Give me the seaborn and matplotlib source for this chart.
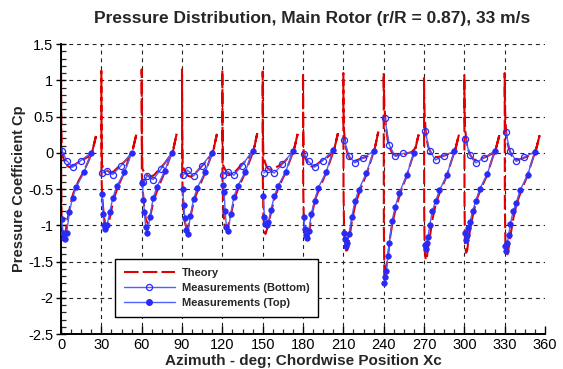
import numpy as np
import pandas as pd
import matplotlib
matplotlib.use("Agg")
import matplotlib.pyplot as plt
from matplotlib.lines import Line2D
from matplotlib.ticker import MultipleLocator
import seaborn as sns

# ---------------------------------------------------------------- data
azimuths = [0, 30, 60, 90, 120, 150, 180, 210, 240, 270, 300, 330]

# chordwise stations of the panel-method solution
theory_xc = [0.0, 0.005, 0.02, 0.05, 0.08, 0.12, 0.18, 0.25, 0.35, 0.5, 0.65, 0.8, 0.9, 1.0]

theory_top = [
    [1.12, -0.40, -0.95, -1.18, -1.22, -1.12, -0.94, -0.76, -0.56, -0.39, -0.26, -0.10, 0.03, 0.23],
    [1.13, -0.30, -0.55, -0.75, -0.90, -1.00, -1.03, -0.88, -0.64, -0.44, -0.28, -0.06, 0.05, 0.25],
    [1.15, -0.30, -0.45, -0.62, -0.78, -0.92, -0.98, -0.86, -0.65, -0.45, -0.28, -0.08, 0.04, 0.26],
    [1.15, -0.30, -0.55, -0.80, -0.95, -1.03, -1.02, -0.86, -0.65, -0.46, -0.29, -0.09, 0.04, 0.26],
    [1.14, -0.35, -0.70, -0.95, -1.05, -1.06, -0.98, -0.84, -0.63, -0.44, -0.28, -0.09, 0.04, 0.27],
    [1.12, -0.40, -0.85, -1.08, -1.12, -1.06, -0.95, -0.80, -0.61, -0.43, -0.28, -0.08, 0.05, 0.26],
    [1.10, -0.45, -0.85, -1.10, -1.18, -1.21, -1.08, -0.86, -0.64, -0.46, -0.29, -0.08, 0.06, 0.27],
    [1.10, -0.50, -1.00, -1.28, -1.35, -1.34, -1.15, -0.93, -0.70, -0.49, -0.31, -0.09, 0.06, 0.29],
    [1.10, -1.00, -1.75, -1.65, -1.55, -1.45, -1.18, -0.97, -0.76, -0.52, -0.33, -0.10, 0.04, 0.25],
    [1.03, -0.80, -1.35, -1.48, -1.45, -1.30, -1.12, -0.90, -0.68, -0.49, -0.32, -0.09, 0.05, 0.25],
    [1.07, -0.70, -1.25, -1.38, -1.35, -1.20, -1.02, -0.85, -0.65, -0.47, -0.31, -0.08, 0.05, 0.24],
    [1.10, -0.70, -1.22, -1.37, -1.40, -1.30, -1.10, -0.90, -0.69, -0.49, -0.32, -0.09, 0.05, 0.24],
]

theory_bottom = [
    [1.12, 0.40, 0.03, -0.04, -0.09, -0.14, -0.18, -0.20, -0.18, -0.13, -0.09, -0.05, 0.02, 0.23],
    [1.13, 0.30, -0.17, -0.20, -0.21, -0.22, -0.25, -0.27, -0.26, -0.19, -0.13, -0.05, 0.04, 0.25],
    [1.15, 0.30, -0.22, -0.25, -0.28, -0.30, -0.32, -0.33, -0.31, -0.23, -0.15, -0.05, 0.03, 0.26],
    [1.15, 0.30, -0.18, -0.22, -0.25, -0.29, -0.32, -0.33, -0.30, -0.22, -0.14, -0.05, 0.04, 0.26],
    [1.14, 0.30, -0.17, -0.20, -0.23, -0.27, -0.29, -0.30, -0.27, -0.19, -0.12, -0.04, 0.05, 0.27],
    [1.12, 0.30, -0.05, -0.10, -0.15, -0.20, -0.23, -0.23, -0.21, -0.17, -0.11, -0.03, 0.05, 0.26],
    [1.10, 0.40, 0.01, -0.05, -0.09, -0.13, -0.17, -0.19, -0.18, -0.12, -0.08, -0.02, 0.06, 0.27],
    [1.10, 0.60, 0.30, 0.15, 0.06, -0.01, -0.07, -0.11, -0.11, -0.08, -0.06, -0.02, 0.06, 0.29],
    [1.10, 0.90, 0.65, 0.45, 0.30, 0.16, 0.06, -0.01, -0.04, -0.03, -0.01, 0.01, 0.06, 0.25],
    [1.03, 0.75, 0.48, 0.30, 0.18, 0.08, 0.02, -0.04, -0.06, -0.05, -0.03, 0.01, 0.06, 0.25],
    [1.07, 0.65, 0.35, 0.20, 0.10, 0.03, -0.04, -0.09, -0.10, -0.08, -0.05, -0.01, 0.05, 0.24],
    [1.10, 0.75, 0.45, 0.25, 0.14, 0.06, -0.02, -0.08, -0.10, -0.08, -0.05, -0.01, 0.05, 0.24],
]

# pressure taps on the upper surface
top_xc = [0.02, 0.05, 0.08, 0.115, 0.165, 0.24, 0.33, 0.44, 0.66, 0.865]
meas_top = [
    [-0.91, -1.10, -1.18, -1.19, -1.10, -0.82, -0.62, -0.47, -0.27, 0.00],
    [-0.57, -0.85, -1.00, -1.05, -1.00, -0.82, -0.62, -0.46, -0.27, -0.01],
    [-0.42, -0.65, -0.82, -1.03, -1.10, -0.88, -0.62, -0.47, -0.25, 0.00],
    [-0.50, -0.72, -0.90, -1.06, -1.12, -0.87, -0.64, -0.48, -0.27, 0.00],
    [-0.45, -0.54, -0.80, -1.02, -1.08, -0.85, -0.61, -0.46, -0.26, 0.03],
    [-0.59, -0.89, -0.98, -1.00, -0.96, -0.79, -0.60, -0.46, -0.26, 0.02],
    [-0.89, -1.05, -1.14, -1.18, -1.08, -0.84, -0.66, -0.48, -0.27, 0.04],
    [-1.10, -1.19, -1.28, -1.25, -1.12, -0.89, -0.67, -0.51, -0.28, 0.02],
    [-1.80, -1.72, -1.63, -1.43, -1.24, -0.94, -0.75, -0.56, -0.31, 0.00],
    [-1.27, -1.33, -1.24, -1.16, -1.00, -0.80, -0.67, -0.52, -0.30, 0.02],
    [-1.11, -1.20, -1.13, -1.04, -0.95, -0.80, -0.66, -0.50, -0.29, 0.02],
    [-1.29, -1.36, -1.25, -1.13, -0.98, -0.81, -0.69, -0.52, -0.30, 0.01],
]

# pressure taps on the lower surface (last station is the shared trailing-edge tap)
bottom_xc = [0.03, 0.16, 0.33, 0.56, 0.865]
meas_bottom = [
    [0.03, -0.11, -0.20, -0.11, 0.00],
    [-0.28, -0.25, -0.30, -0.18, -0.01],
    [-0.41, -0.32, -0.37, -0.22, 0.00],
    [-0.31, -0.24, -0.32, -0.18, 0.00],
    [-0.30, -0.26, -0.31, -0.18, 0.03],
    [-0.28, -0.23, -0.28, -0.16, 0.02],
    [-0.02, -0.12, -0.20, -0.11, 0.04],
    [0.17, -0.04, -0.14, -0.07, 0.02],
    [0.48, 0.11, -0.05, -0.01, 0.00],
    [0.30, 0.03, -0.10, -0.04, 0.02],
    [0.19, -0.03, -0.14, -0.07, 0.02],
    [0.28, 0.02, -0.12, -0.06, 0.01],
]

xticks = [0, 30, 60, 90, 120, 150, 180, 210, 240, 270, 300, 330, 360]
yticks = [1.5, 1, 0.5, 0, -0.5, -1, -1.5, -2, -2.5]

# each section's chord is laid out over this many degrees after its azimuth
CHORD_DEG = 26.0

# ---------------------------------------------------------------- frames
rows_th = []
for k, az in enumerate(azimuths):
    # trailing edge -> leading edge along the upper side, then back along the lower side
    xs = [az + CHORD_DEG * c for c in theory_xc]
    path_x = xs[::-1] + xs[1:]
    path_y = theory_top[k][::-1] + theory_bottom[k][1:]
    for i, (x, y) in enumerate(zip(path_x, path_y)):
        rows_th.append({"seg": k, "order": i, "x": x, "cp": y})
df_th = pd.DataFrame(rows_th)

rows_top, rows_bot = [], []
for k, az in enumerate(azimuths):
    for c, y in zip(top_xc, meas_top[k]):
        rows_top.append({"seg": k, "x": az + CHORD_DEG * c, "cp": y})
    for c, y in zip(bottom_xc, meas_bottom[k]):
        rows_bot.append({"seg": k, "x": az + CHORD_DEG * c, "cp": y})
df_top = pd.DataFrame(rows_top)
df_bot = pd.DataFrame(rows_bot)

# ---------------------------------------------------------------- plot
sns.set_theme(style="white")
plt.rcParams["font.family"] = ["Liberation Sans", "DejaVu Sans"]

RED = "#E00000"
BLUE_LINE = "#5060FF"
BLUE_MK = "#2A2AF8"
THEORY_DASH = (0, (7, 2))

fig = plt.figure(figsize=(5.63, 3.69), dpi=100)
ax = fig.add_axes([61 / 563, 35 / 369, 484 / 563, 290 / 369])

sns.lineplot(data=df_th, x="x", y="cp", units="seg", estimator=None, sort=False,
             color=RED, linewidth=1.5, linestyle=THEORY_DASH, ax=ax, zorder=2)
sns.lineplot(data=df_bot, x="x", y="cp", units="seg", estimator=None, sort=False,
             color=BLUE_LINE, linewidth=1.0, marker="o", markersize=4.4,
             markerfacecolor="none", markeredgecolor=BLUE_MK, markeredgewidth=0.9,
             markevery=[0, 1, 2, 3], ax=ax, zorder=3)
sns.lineplot(data=df_top, x="x", y="cp", units="seg", estimator=None, sort=False,
             color=BLUE_LINE, linewidth=1.0, marker="o", markersize=4.0,
             markerfacecolor=BLUE_MK, markeredgecolor=BLUE_MK, markeredgewidth=0.5,
             ax=ax, zorder=4)

ax.set_xlim(0, 360)
ax.set_ylim(-2.5, 1.5)
ax.set_xticks(xticks)
ax.set_yticks(yticks)
ax.set_xticklabels([str(t) for t in xticks])
ax.set_yticklabels([("%g" % t) for t in yticks])
ax.xaxis.set_minor_locator(MultipleLocator(7.5))
ax.yaxis.set_minor_locator(MultipleLocator(0.1))

ax.grid(True, which="major", color="#222222", linestyle=(0, (3.5, 3.5)), linewidth=0.8)
ax.set_axisbelow(True)
fig.canvas.draw()
ax.xaxis.get_gridlines()[-1].set_visible(False)
ax.yaxis.get_gridlines()[-1].set_visible(False)

for side in ("top", "right"):
    ax.spines[side].set_visible(False)
for side in ("left", "bottom"):
    ax.spines[side].set_color("black")
    ax.spines[side].set_linewidth(1.4)

ax.tick_params(axis="x", which="major", direction="in", length=6, width=1.0,
               labelsize=10.5, pad=3, colors="black", bottom=True)
ax.tick_params(axis="x", which="minor", direction="in", length=3.5, width=0.9, bottom=True)
ax.tick_params(axis="y", which="major", direction="inout", length=7, width=1.0,
               labelsize=10.5, pad=2, colors="black", left=True)
ax.tick_params(axis="y", which="minor", direction="in", length=3.5, width=0.9, left=True)

ax.set_xlabel("Azimuth - deg; Chordwise Position Xc", fontsize=11, fontweight="bold",
              labelpad=1)
ax.set_ylabel("Pressure Coefficient Cp", fontsize=10.5, fontweight="bold")
# right edge of the rotated label sits just left of the tick labels
ax.yaxis.set_label_coords((26 - 61) / 484, 0.5)

fig.text(312 / 563, 1 - 18 / 369, "Pressure Distribution, Main Rotor (r/R = 0.87), 33 m/s",
         ha="center", va="center", fontsize=12.5, fontweight="bold")

handles = [
    Line2D([], [], color=RED, linewidth=1.5, linestyle=THEORY_DASH),
    Line2D([], [], color=BLUE_LINE, linewidth=1.0, marker="o", markersize=4.4,
           markerfacecolor="none", markeredgecolor=BLUE_MK, markeredgewidth=0.9),
    Line2D([], [], color=BLUE_LINE, linewidth=1.0, marker="o", markersize=4.0,
           markerfacecolor=BLUE_MK, markeredgecolor=BLUE_MK),
]
labels = ["Theory", "Measurements (Bottom)", "Measurements (Top)"]
leg = ax.legend(handles, labels, loc="lower left",
                bbox_to_anchor=((115 - 61) / 484, (334 - 317) / 290),
                frameon=True, fancybox=False, framealpha=1, edgecolor="black",
                prop={"weight": "bold", "size": 8.0}, handlelength=4.6,
                borderpad=0.8, labelspacing=0.45, handletextpad=0.6, borderaxespad=0)
leg.get_frame().set_linewidth(1.0)

fig.savefig("out.png", dpi=100)
